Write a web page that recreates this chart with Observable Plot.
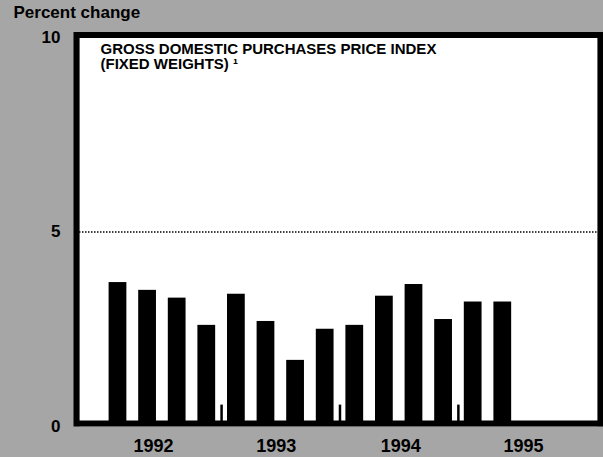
<!DOCTYPE html>
<html>
<head>
<meta charset="utf-8">
<script src="https://cdn.jsdelivr.net/npm/d3@7"></script>
<script src="https://cdn.jsdelivr.net/npm/@observablehq/plot@0.6"></script>
<style>
  html, body { margin: 0; padding: 0; background: #a6a6a6; }
  #chart { width: 603px; height: 457px; }
  svg text { font-weight: bold; }
</style>
</head>
<body>
<div id="chart"></div>
<script>
// Quarterly percent change, 1992 Q1 .. 1995 Q2
const quarters = ["1992Q1","1992Q2","1992Q3","1992Q4","1993Q1","1993Q2","1993Q3","1993Q4",
                  "1994Q1","1994Q2","1994Q3","1994Q4","1995Q1","1995Q2"];
const values = [3.7, 3.5, 3.3, 2.6, 3.4, 2.7, 1.7, 2.5, 2.6, 3.35, 3.65, 2.75, 3.2, 3.2];
const yTicks = [0, 5, 10];
const yearLabels = ["1992", "1993", "1994", "1995"];
const yearLabelPos = [1.2, 5.35, 9.55, 13.7];   // in quarter-index units
const yearBreaks = [3.5, 7.5, 11.5];
const titleLine1 = "GROSS DOMESTIC PURCHASES PRICE INDEX";
const titleLine2 = "(FIXED WEIGHTS) \u00B9";
const yLabel = "Percent change";

const font = "'Liberation Sans', Arial, Helvetica, sans-serif";
const data = values.map((v, i) => ({q: quarters[i], i, v}));

const chart = Plot.plot({
  width: 603,
  height: 457,
  marginLeft: 79,
  marginRight: 6,
  marginTop: 37,
  marginBottom: 31,
  style: {background: "transparent", fontFamily: font, fontSize: "17px", color: "black"},
  x: {type: "linear", domain: [-1.3, 16.2], axis: null},
  y: {domain: [0, 10], axis: null},
  marks: [
    Plot.frame({fill: "white", stroke: null}),
    Plot.ruleY([5], {stroke: "black", strokeWidth: 1.5, strokeDasharray: "1.5,1.5"}),
    Plot.rectY(data, {x1: d => d.i - 0.3, x2: d => d.i + 0.3, y: "v", fill: "black"}),
    Plot.ruleX(yearBreaks, {y1: 0, y2: 0.55, stroke: "black", strokeWidth: 2.5}),
    Plot.frame({stroke: "black", strokeWidth: 6, insetLeft: -3, insetRight: -3, insetTop: -2.5, insetBottom: 3}),
    Plot.axisY(yTicks, {label: null, tickSize: 0, tickPadding: 19, fontSize: 17, fontWeight: "bold"}),
    Plot.axisX(yearLabelPos, {label: null, tickSize: 0, tickPadding: 13, fontSize: 18, fontWeight: "bold",
      tickFormat: (d, i) => yearLabels[i]}),
    Plot.text([titleLine1], {frameAnchor: "top-left", textAnchor: "start", lineAnchor: "top",
      dx: 21, dy: 5.5, fontSize: 15, fill: "black"}),
    Plot.text([titleLine2], {frameAnchor: "top-left", textAnchor: "start", lineAnchor: "top",
      dx: 21, dy: 21, fontSize: 15, fill: "black"}),
    Plot.text([yLabel], {frameAnchor: "top-left", textAnchor: "start", lineAnchor: "top",
      dx: -66, dy: -32, fontSize: 17, fill: "black"})
  ]
});
document.getElementById("chart").appendChild(chart);
</script>
</body>
</html>
